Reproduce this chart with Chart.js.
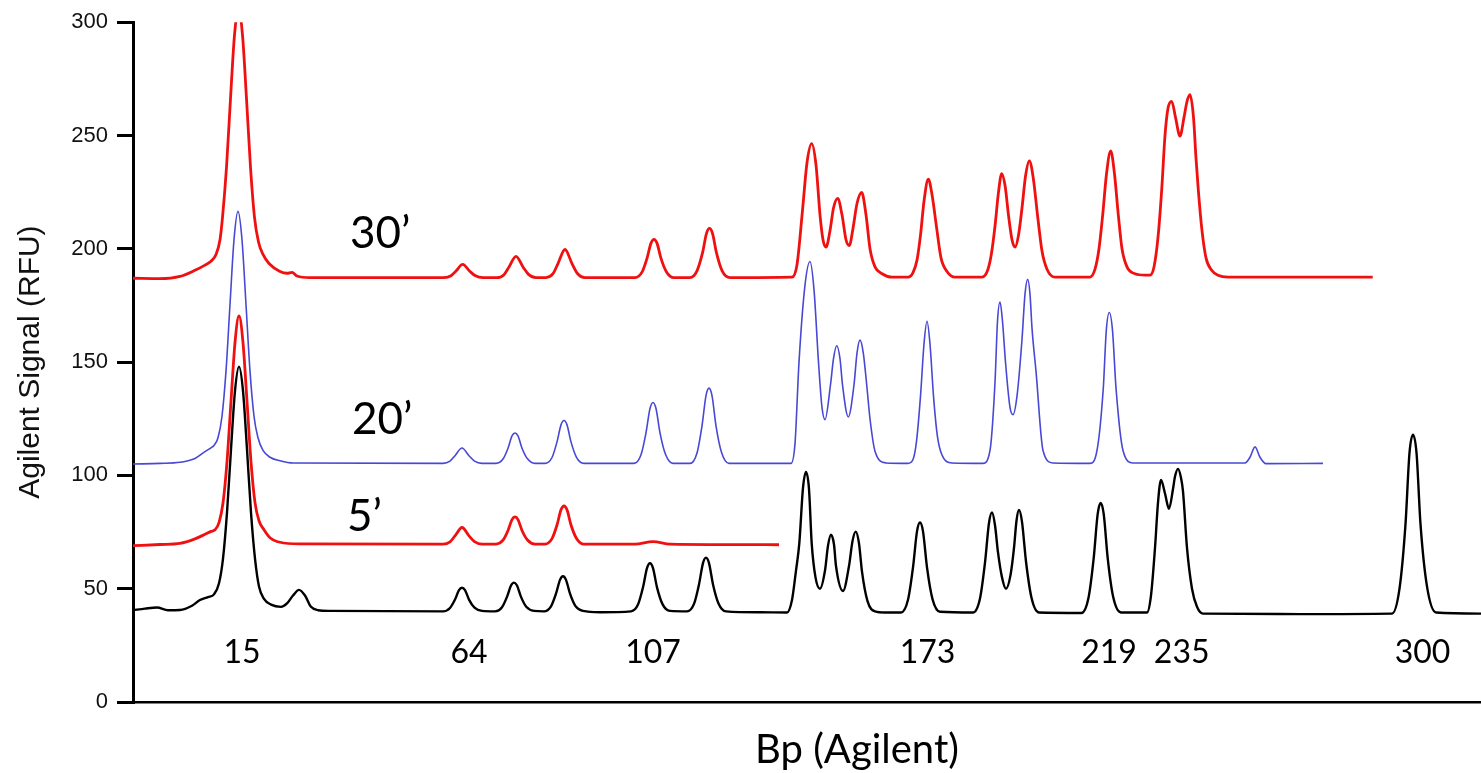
<!DOCTYPE html>
<html lang="en">
  <head>
    <meta charset="UTF-8" />
    <title>Agilent traces</title>
    <script src="https://cdn.jsdelivr.net/npm/chart.js"></script>
    <style>
      html, body { margin: 0; padding: 0; background: #fff; }
      canvas { display: block; }
    </style>
  </head>
  <body>
    <canvas id="chart" width="1481" height="773"></canvas>

    <script>
      // migration position (scan units) / signal (RFU)
      const trace0 = [
        [0, 40.5], [12, 41.2], [24, 41.7], [35, 40.5], [47, 40.6], [59, 42.5], [67, 45], [75, 46.3],
        [81, 47.5], [86, 52.4], [90, 63.3], [94, 83.6], [98, 111.5], [102, 137.3], [106, 148], [110, 137.3],
        [114, 111.5], [118, 83.6], [122, 63.3], [126, 51], [131, 45.5], [138, 43], [148, 42], [154, 43.5],
        [160, 47], [166, 49.5], [172, 47], [178, 42], [185, 40.5], [197, 40.2],
        [310, 40], [317, 41.5], [322, 45.2], [326, 49.4], [329, 50.4], [332, 49.4], [336, 45.2], [341.5, 41.6], [349, 40.2],
        [362, 40], [369, 41.8], [374, 46.4], [378, 51.4], [381, 52.7], [384, 51.4], [388, 46.4], [393.5, 41.9], [401, 40.2],
        [411, 40], [418, 42.2], [423, 47.8], [427, 53.9], [430, 55.5], [433, 53.9], [437, 47.8], [442.5, 42.3], [450, 40.2],
        [467, 39.6], [498, 40], [505, 43], [510, 50.6], [514, 59.1], [517, 61.2], [520, 59.1], [524, 50.6],
        [529.5, 43.2], [537, 40.2],
        [554, 40], [561, 43.3], [566, 51.9], [570, 61.3], [573, 63.7], [576, 61.3], [580, 51.9], [585.5, 43.5], [593, 40],
        [627, 39.6], [654, 39.5], [659, 45], [663, 58], [666.3, 70], [670, 94.5], [673, 101.5], [676, 94],
        [678.7, 70], [682.5, 55], [687, 50], [692, 58], [695, 69], [698, 73.8], [701, 69.5], [703, 60], [710, 49],
        [716, 60], [719.5, 71], [722.7, 75.2], [726, 70], [729, 57.5], [734.5, 44.5], [742, 40], [752, 39.5],
        [768, 39.5], [775, 45.1], [780, 59.4], [784, 75.3], [787, 79.2], [790, 75.3], [794, 59.4], [799.5, 45.4], [807, 39.8],
        [840, 39.5], [847, 45.7], [852, 61.5], [856, 79], [859, 83.6], [862, 78], [865, 66], [869, 55], [873, 50],
        [877.5, 56], [881, 68], [883.5, 80], [886, 84.7], [889, 79.5], [893, 62], [898.5, 46], [906, 39.5],
        [948.5, 39.3], [955.5, 46], [960.7, 63.5], [964.7, 83], [967.7, 87.8], [970.7, 83], [974.7, 63.5],
        [980.2, 46.3], [988, 39.5],
        [1014, 39.5], [1018, 47], [1022, 68], [1025, 88], [1028, 98], [1032, 92], [1036, 85.3], [1040, 94],
        [1042, 99.5], [1045, 102.9], [1048, 99], [1050, 93], [1054, 68], [1059, 50], [1064, 42], [1070, 39], [1167, 38.8],
        [1259, 39], [1266.5, 50], [1272.5, 78.5], [1276.5, 110], [1280, 118], [1283.5, 110], [1287.5, 78.5],
        [1294, 51], [1303, 39.5], [1348, 39]
      ];

      const trace5 = [
        [0, 69], [27, 69.5], [47, 70], [62, 72], [72, 74], [78, 75.3], [82, 76], [86, 79.2], [90, 87.8],
        [94, 106], [98, 132.7], [102, 158.6], [106, 170.4], [110, 158.6], [114, 132.7], [118, 106],
        [122, 88], [126, 80], [131, 76], [137, 72.5], [147, 70.5], [167, 69.8],
        [310, 69.7], [317, 70.7], [322, 73.3], [329, 77], [336, 73.3], [341.5, 70.8], [349, 69.7],
        [363, 69.7], [370, 71.4], [375, 75.7], [379, 80.5], [382, 81.7], [385, 80.5], [389, 75.7], [394.5, 71.5], [402, 69.7],
        [412, 69.7], [419, 72.1], [424, 78.1], [428, 84.8], [431, 86.5], [434, 84.8], [438, 78.1], [443.5, 72.2], [451, 69.7],
        [502, 69.7], [520, 70.8], [537, 69.7], [646, 69.4]
      ];

      const trace20 = [
        [0, 105], [27, 105.3], [47, 105.8], [62, 107.5], [72, 110.5], [79, 112.5], [81, 113.2], [85, 116.6],
        [89, 126.1], [93, 146], [97, 175.4], [101, 204], [105, 216.5], [109, 204], [113, 175.4], [117, 146],
        [121, 126.1], [125, 116.6], [130, 111], [137, 108], [147, 106.5], [160, 105.5],
        [310, 105.3], [317, 106.3], [322, 108.7], [329, 112.1], [336, 108.7], [341.5, 106.3], [349, 105.3],
        [363, 105.3], [370, 107.2], [375, 112], [379, 117.4], [382, 118.7], [385, 117.4], [389, 112], [394.5, 107.3], [402, 105.3],
        [412, 105.3], [419, 107.9], [424, 114.8], [428, 122.3], [431, 124.2], [434, 122.3], [438, 114.8], [443.5, 108], [451, 105.3],
        [501, 105.3], [508, 109.1], [513, 118.8], [517, 129.5], [520, 132.2], [523, 129.5], [527, 118.8],
        [532.5, 109.3], [540, 105.3],
        [557, 105.3], [564, 109.9], [569, 121.9], [573, 135.2], [576, 138.5], [579, 135.2], [583, 121.9],
        [588.5, 110.2], [596, 105.3],
        [658, 105.3], [662, 114], [666, 150], [672, 184], [677, 194.4], [681, 182], [685.5, 150], [689, 130],
        [692, 124.6], [697.5, 140], [700.5, 151.5], [703.7, 157.2], [707, 151.5], [709.5, 140], [715.3, 125.8],
        [721, 140], [724, 154], [727, 159.7], [730.3, 154], [733.7, 140], [737, 125], [742, 110.7], [753, 105.5],
        [775, 105.3], [780, 107], [783.5, 115], [787.5, 135], [791, 158], [794, 168], [797, 158], [800.5, 135],
        [804.5, 117], [809, 109], [819, 105.5],
        [850, 105.3], [857, 111], [862, 141], [864.5, 168], [867, 176.5], [869.5, 168], [872.5, 150], [877, 130],
        [880, 126.8], [884, 135], [889, 160], [892, 180], [894.7, 186.5], [897, 180], [899, 165], [903, 146],
        [910, 111], [920, 105.5],
        [957, 105.3], [964, 111], [970.3, 138.6], [973.3, 164], [976.3, 171.9], [979.5, 164], [983, 138.6],
        [990, 111], [1000, 105.5],
        [1112, 105.5], [1117, 108], [1122, 112.6], [1127, 108], [1133, 105.2], [1190, 105.3]
      ];

      const trace30 = [
        [0, 187], [27, 186.8], [47, 187.8], [62, 190.5], [72, 192.8], [78, 194.5], [83, 197.5], [87, 204],
        [89.5, 213.9], [93.5, 236], [97.5, 266.3], [101.5, 294.3], [105.5, 306], [109.5, 294.3], [113.5, 266.3],
        [117.5, 236], [121.5, 213.9], [125.5, 203], [130, 197.5], [136, 193.5], [147, 190], [154, 189.2],
        [159, 189.6], [164, 188], [177, 187.3],
        [311, 187.3], [318, 188.1], [323, 190.2], [329.7, 193.1], [336.5, 190.2], [342, 188.2], [350, 187.3],
        [364, 187.3], [371, 188.6], [376, 192], [383, 196.7], [390, 192], [395.5, 188.7], [403, 187.3],
        [413, 187.3], [420, 189], [425, 193.5], [432, 199.7], [439, 193.5], [444.5, 189.1], [452, 187.3],
        [502, 187.3], [509, 189.7], [514, 195.8], [518, 202.5], [521, 204.2], [524, 202.5], [528, 195.8],
        [533.5, 189.8], [541, 187.3],
        [557, 187.3], [564, 190.3], [569.5, 198.2], [573.5, 206.8], [576.5, 209], [579.5, 206.8], [583.5, 198.2],
        [589, 190.4], [597, 187.3],
        [659, 187.5], [664, 193], [669.5, 217], [674, 238], [678.7, 246.4], [683, 237], [687, 215], [690, 204],
        [693, 200.7], [697, 208], [700.5, 218], [704.7, 222.2], [709, 215], [713, 204], [716.3, 201.4],
        [720, 209], [724, 220], [728.7, 224.9], [733, 215], [737, 200], [742, 192], [749, 189], [759, 187.5],
        [775, 187.5], [780, 189.5], [784, 195], [787.5, 206], [791, 221], [795.3, 230.7], [799, 224],
        [803.7, 209], [808, 196], [814, 190], [822, 187.5],
        [849, 187.5], [855, 191], [858.5, 198], [862, 210], [865.5, 225], [868.7, 233.2], [872, 228],
        [876, 213], [879, 204], [882, 200.7], [885.5, 206], [889, 218], [892.5, 232], [896.3, 238.8],
        [900, 232], [905, 213], [909, 199], [914, 191], [922, 187.5],
        [957, 187.5], [962, 191], [966, 200], [969.7, 215], [973.5, 233], [977.7, 243.2], [981.5, 233],
        [985.3, 215], [989, 200], [994, 192], [1002, 189], [1012, 188.4],
        [1017, 188.4], [1021, 192], [1025, 205], [1028.7, 226], [1032, 250], [1035, 262], [1038.7, 265.1],
        [1042.5, 258], [1047, 249.7], [1051, 258], [1054, 265], [1057, 268], [1060.5, 258], [1063, 240],
        [1065.3, 226], [1069, 208], [1073, 196], [1078.7, 190.5], [1085, 188.3], [1095, 187.5], [1239.7, 187.5]
      ];

      const yTicks = [0, 50, 100, 150, 200, 250, 300];

      // fragment sizes written under the ladder peaks
      const bpLabels = ["15", "64", "107", "173", "219", "235", "300"];
      const bpPos = [109, 336, 520, 794.5, 976, 1048.7, 1289.5];
      const bpY = 17;

      // digestion times
      const timeLabels = ["30\u2019", "20\u2019", "5\u2019"];
      const timePos = [217, 219, 214];
      const timeY = [200.4, 118.1, 75.5];

      const annot = {
        id: "annot",
        afterDatasetsDraw(chart) {
          const { ctx, chartArea } = chart;
          const x = chart.scales.x;
          const y = chart.scales.y;
          ctx.save();
          ctx.fillStyle = "#000";
          ctx.textBaseline = "alphabetic";

          ctx.textAlign = "center";
          ctx.font = "32px Lato";
          bpLabels.forEach((t, i) => {
            ctx.fillText(t, x.getPixelForValue(bpPos[i]), y.getPixelForValue(bpY));
          });

          ctx.textAlign = "left";
          ctx.font = "44px Lato";
          timeLabels.forEach((t, i) => {
            ctx.fillText(t, x.getPixelForValue(timePos[i]), y.getPixelForValue(timeY[i]));
          });

          // x axis title sits right of centre in the original
          ctx.textAlign = "center";
          ctx.font = "40px Lato";
          ctx.fillText("Bp (Agilent)", x.getPixelForValue(724), chartArea.bottom + 61);
          ctx.restore();
        },
      };

      const toXY = (arr) => arr.map((p) => ({ x: p[0], y: p[1] }));

      const line = (data, color, width) => ({
        data: toXY(data),
        borderColor: color,
        borderWidth: width,
        pointRadius: 0,
        fill: false,
        cubicInterpolationMode: "monotone",
      });

      new Chart(document.getElementById("chart"), {
        type: "line",
        data: {
          datasets: [
            line(trace0, "#000000", 2.4),
            line(trace5, "#f01010", 2.8),
            line(trace20, "#4848d4", 1.6),
            line(trace30, "#f01010", 2.8),
          ],
        },
        options: {
          responsive: false,
          animation: false,
          devicePixelRatio: 1,
          layout: { padding: { top: 19, right: 0, left: 0, bottom: 0 } },
          plugins: {
            legend: { display: false },
            tooltip: { enabled: false },
          },
          scales: {
            x: {
              type: "linear",
              min: 0,
              max: 1348,
              grid: { display: false },
              ticks: { display: false },
              border: { display: true, color: "#000", width: 2.5 },
              afterFit: (scale) => {
                scale.height = 71;
              },
            },
            y: {
              min: 0,
              max: 300,
              afterBuildTicks: (scale) => {
                scale.ticks = yTicks.map((v) => ({ value: v }));
              },
              grid: {
                drawOnChartArea: false,
                drawTicks: true,
                tickLength: 16,
                tickWidth: 3,
                tickColor: "#000",
                lineWidth: 3,
                color: "#000",
              },
              border: { display: true, color: "#000", width: 3 },
              ticks: {
                color: "#111",
                padding: 9,
                font: { family: "Liberation Sans", size: 22 },
              },
              title: {
                display: true,
                text: "Agilent Signal (RFU)",
                color: "#111",
                font: { family: "Liberation Sans", size: 30 },
                padding: { top: 13, bottom: 0 },
              },
              afterFit: (scale) => {
                scale.width = 133;
              },
            },
          },
        },
        plugins: [annot],
      });
    </script>
  </body>
</html>
